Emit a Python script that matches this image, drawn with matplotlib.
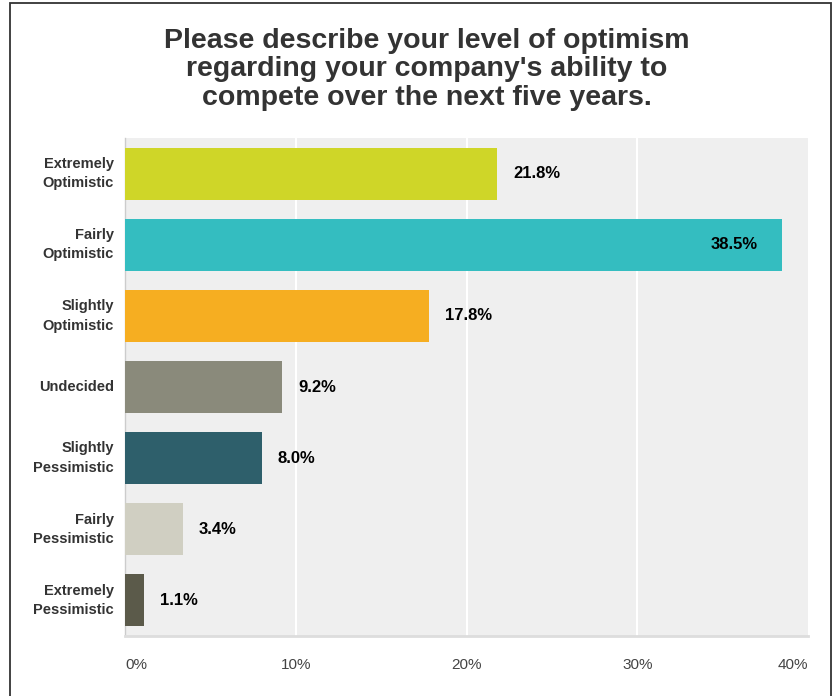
import matplotlib.pyplot as plt
from matplotlib.patches import Rectangle

# survey answers, top to bottom
categories = ["Extremely\nOptimistic", "Fairly\nOptimistic", "Slightly\nOptimistic",
              "Undecided", "Slightly\nPessimistic", "Fairly\nPessimistic",
              "Extremely\nPessimistic"]
values = [21.8, 38.5, 17.8, 9.2, 8.0, 3.4, 1.1]
colors = ["#cfd628", "#34bdc0", "#f6ae21", "#8a8a7b", "#2e5f6b", "#d0cfc2", "#5b5a4a"]
ticks = [0, 10, 20, 30, 40]
tick_labels = ["0%", "10%", "20%", "30%", "40%"]

plt.rcParams["font.family"] = ["Liberation Sans", "DejaVu Sans"]

fig = plt.figure(figsize=(8.38, 6.96), dpi=100)
W, H = 838.0, 696.0

# frame around the whole chart
fig.patches.append(Rectangle((10 / W, -0.05), 821 / W, 1.05 - 3 / H,
                             transform=fig.transFigure, fill=False,
                             edgecolor="#333333", linewidth=1.3))

fig.text(427 / W, 1 - 28 / H,
         "Please describe your level of optimism\nregarding your company's ability to\ncompete over the next five years.",
         ha="center", va="top", fontsize=20.5, fontweight="bold",
         color="#333333", linespacing=1.12)

ax = fig.add_axes([125 / W, 1 - 636 / H, 683 / W, 498 / H])
ax.set_facecolor("#efefef")

ypos = list(range(len(categories)))
ax.barh(ypos, values, height=0.73, color=colors, zorder=3)
ax.set_ylim(len(categories) - 0.5, -0.5)
ax.set_xlim(0, 40)

for x in ticks[1:-1]:
    ax.axvline(x, color="white", linewidth=1.5, zorder=1)

ax.set_yticks(ypos)
ax.set_yticklabels(categories, fontsize=10.5, fontweight="bold", color="#333333",
                   linespacing=1.5, va="center")
ax.tick_params(axis="y", length=0, pad=8)

ax.set_xticks(ticks)
ax.set_xticklabels(tick_labels, fontsize=11, color="#444444")
ax.tick_params(axis="x", length=0, pad=16)
labels = ax.get_xticklabels()
labels[0].set_horizontalalignment("left")
labels[-1].set_horizontalalignment("right")

for side in ["top", "right"]:
    ax.spines[side].set_visible(False)
ax.spines["left"].set_color("#cccccc")
ax.spines["left"].set_linewidth(1)
ax.spines["bottom"].set_color("#dddddd")
ax.spines["bottom"].set_linewidth(2)

# value labels: outside the bar, inside for the longest one
for y, v in zip(ypos, values):
    text = f"{v:.1f}%"
    if v > 35:
        ax.annotate(text, (v, y), xytext=(-18, 0), textcoords="offset points",
                    ha="right", va="center", fontsize=12, fontweight="bold",
                    color="black", zorder=4)
    else:
        ax.annotate(text, (v, y), xytext=(11.5, 0), textcoords="offset points",
                    ha="left", va="center", fontsize=12, fontweight="bold",
                    color="black", zorder=4)

fig.savefig("out.png", dpi=100)
